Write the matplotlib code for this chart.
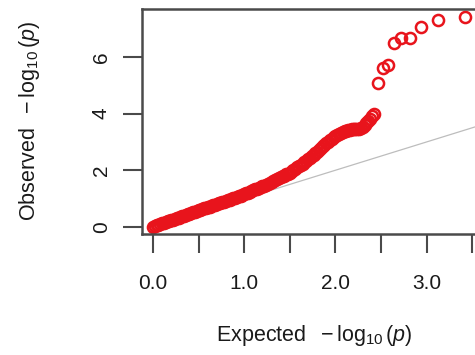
import matplotlib
matplotlib.use("Agg")
import matplotlib.pyplot as plt

plt.rcParams['font.family'] = ['Liberation Sans', 'DejaVu Sans']
plt.rcParams['mathtext.fontset'] = 'custom'
plt.rcParams['mathtext.rm'] = 'Liberation Sans'
plt.rcParams['mathtext.it'] = 'Liberation Sans:italic'

# expected vs observed -log10(p), bulk of the distribution
esperado = [0.00, 0.02, 0.04, 0.06, 0.08, 0.10, 0.12, 0.14, 0.16, 0.18,
            0.20, 0.22, 0.24, 0.26, 0.28, 0.30, 0.32, 0.34, 0.36, 0.38,
            0.40, 0.42, 0.44, 0.46, 0.48, 0.50, 0.52, 0.54, 0.56, 0.58,
            0.60, 0.62, 0.64, 0.66, 0.68, 0.70, 0.72, 0.74, 0.76, 0.78,
            0.80, 0.82, 0.84, 0.86, 0.88, 0.90, 0.92, 0.94, 0.96, 0.98,
            1.00, 1.02, 1.04, 1.06, 1.08, 1.10, 1.12, 1.14, 1.16, 1.18,
            1.20, 1.22, 1.24, 1.26, 1.28, 1.30, 1.32, 1.34, 1.36, 1.38,
            1.40, 1.42, 1.44, 1.46, 1.48, 1.50, 1.52, 1.54, 1.56, 1.58,
            1.60, 1.62, 1.64, 1.66, 1.68, 1.70, 1.72, 1.74, 1.76, 1.78,
            1.80, 1.82, 1.84, 1.86, 1.88, 1.90, 1.92, 1.94, 1.96, 1.98,
            2.00, 2.02, 2.04, 2.06, 2.08, 2.10, 2.12, 2.14, 2.16, 2.18,
            2.20, 2.22, 2.24, 2.26, 2.28, 2.30, 2.32, 2.34, 2.36, 2.38,
            2.40, 2.42]
observado = [0.00, 0.02, 0.05, 0.07, 0.09, 0.12, 0.14, 0.16, 0.19, 0.21,
             0.23, 0.26, 0.28, 0.30, 0.32, 0.35, 0.37, 0.39, 0.42, 0.44,
             0.46, 0.49, 0.51, 0.53, 0.56, 0.58, 0.60, 0.62, 0.65, 0.67,
             0.69, 0.71, 0.74, 0.76, 0.78, 0.80, 0.83, 0.85, 0.87, 0.89,
             0.92, 0.94, 0.96, 0.98, 1.01, 1.03, 1.05, 1.08, 1.10, 1.13,
             1.15, 1.18, 1.20, 1.23, 1.26, 1.29, 1.32, 1.34, 1.37, 1.40,
             1.43, 1.46, 1.49, 1.52, 1.55, 1.58, 1.61, 1.65, 1.68, 1.71,
             1.75, 1.78, 1.81, 1.85, 1.88, 1.92, 1.96, 2.01, 2.05, 2.10,
             2.14, 2.19, 2.23, 2.28, 2.34, 2.39, 2.44, 2.50, 2.55, 2.61,
             2.66, 2.72, 2.78, 2.84, 2.90, 2.96, 3.01, 3.06, 3.11, 3.16,
             3.21, 3.25, 3.29, 3.32, 3.35, 3.38, 3.40, 3.42, 3.43, 3.44,
             3.445, 3.45, 3.46, 3.47, 3.49, 3.53, 3.59, 3.66, 3.74, 3.82,
             3.90, 4.00]

# top hits
esperado_top = [2.47, 2.52, 2.58, 2.64, 2.72, 2.82, 2.94, 3.12, 3.42]
observado_top = [5.09, 5.62, 5.72, 6.50, 6.68, 6.68, 7.07, 7.31, 7.42]

ticks_x = [0.0, 0.5, 1.0, 1.5, 2.0, 2.5, 3.0, 3.5]
etiquetas_x = ['0.0', '', '1.0', '', '2.0', '', '3.0', '']
ticks_y = [0, 2, 4, 6]

fig = plt.figure(figsize=(4.75, 3.55), dpi=100)
ax = fig.add_axes([0.299, 0.341, 0.724, 0.634])

ax.plot([0, 4], [0, 4], color='#bdbdbd', linewidth=0.9, zorder=1)
ax.plot(esperado + esperado_top, observado + observado_top, linestyle='none',
        marker='o', markersize=8, markerfacecolor='none',
        markeredgecolor='#e8141c', markeredgewidth=1.8, zorder=2)

ax.set_xlim(-0.12, 3.65)
ax.set_ylim(-0.25, 7.7)
ax.set_xticks(ticks_x)
ax.set_xticklabels(etiquetas_x)
ax.set_yticks(ticks_y)
ax.set_yticklabels([str(t) for t in ticks_y], rotation=90, va='center')

for lado in ax.spines.values():
    lado.set_color('#4a4a4a')
    lado.set_linewidth(1.8)

ax.tick_params(axis='both', direction='out', length=13.5, width=1.5,
               color='#4a4a4a', labelsize=15, labelcolor='#1a1a1a')
ax.tick_params(axis='x', pad=15)
ax.tick_params(axis='y', pad=9)

ax.set_xlabel(r'Expected $\;-\log_{10}(\mathit{p})$', fontsize=15.5,
              color='#1a1a1a', labelpad=22)
ax.set_ylabel(r'Observed $\;-\log_{10}(\mathit{p})$', fontsize=15.5,
              color='#1a1a1a', labelpad=36)

fig.savefig('out.png', dpi=100)
